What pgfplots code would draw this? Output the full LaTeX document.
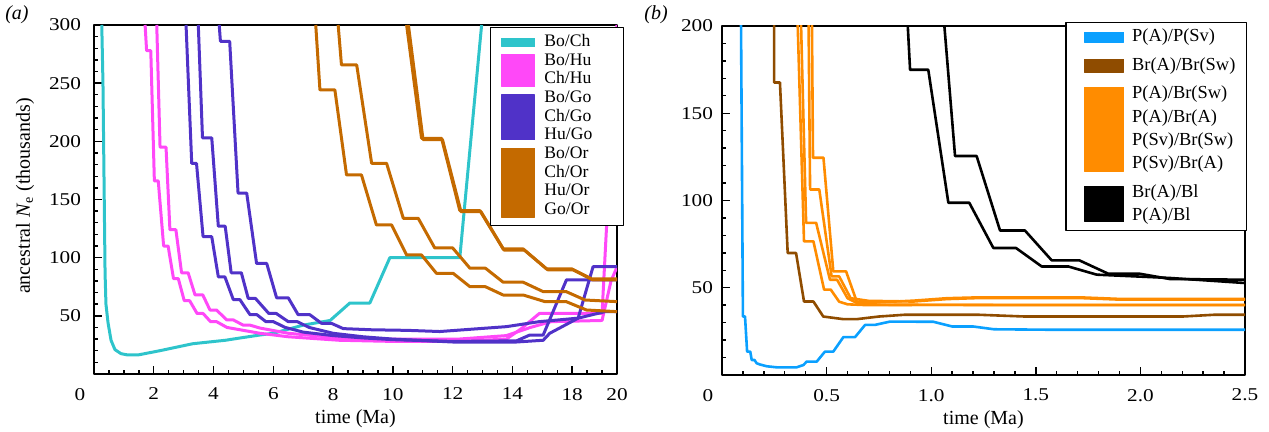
\documentclass[border=0pt]{standalone}
\usepackage{fontspec}
\setmainfont{Liberation Serif}
\newfontfamily\axisfont{Liberation Serif}[FakeStretch=1.18]
\usepackage{pgfplots}
\pgfplotsset{compat=1.18}

\definecolor{cyanA}{RGB}{46,196,203}
\definecolor{magA}{RGB}{255,72,248}
\definecolor{purA}{RGB}{80,50,200}
\definecolor{brnA}{RGB}{196,106,0}
\definecolor{bluB}{RGB}{10,160,255}
\definecolor{brnB}{RGB}{143,76,0}
\definecolor{orgB}{RGB}{255,140,0}

\pgfplotsset{
  panel/.style={
    scale only axis, width=261.5pt, height=174.5pt, anchor=south west,
    axis line style={line width=1pt},
    tick style={line width=0.7pt, black},
    tick align=inside, xtick pos=left, ytick pos=left,
    major tick length=4pt, minor tick length=2.2pt,
    /pgf/number format/assume math mode=true,
    tick label style={font=\axisfont\fontsize{9}{10}\selectfont},
    xticklabel style={yshift=-3.5pt},
    label style={font=\axisfont\fontsize{10}{12}\selectfont},
    every axis x label/.style={at={(axis description cs:0.5,-0.128)}, anchor=center},
    every axis y label/.style={at={(axis description cs:-0.132,0.51)}, rotate=90, anchor=center},
    extra x ticks={0}, extra x tick labels={0},
    extra x tick style={tick label style={xshift=-7pt}},
    line join=round,
  },
  leg/.style={
    draw=black, line width=0.6pt, fill=white,
    cells={anchor=west, align=left},
    nodes={inner sep=0pt, text depth=},
    row sep=0pt,
  },
}

\begin{document}
\begin{tikzpicture}
\path[use as bounding box] (0,0) rectangle (634.5pt,216pt);
\node[font=\itshape\fontsize{10}{11}\selectfont] at (8.5pt,208.5pt) {(a)};
\node[font=\itshape\fontsize{10}{11}\selectfont] at (328pt,208.5pt) {(b)};

% ---------- panel (a)
\begin{axis}[panel, at={(47pt,29pt)},
  xmin=0, xmax=17.5, ymin=0, ymax=300,
  xtick={2,4,...,16,17.5}, xticklabels={2,4,6,8,10,12,14,18,20},
  minor xtick={0.5,1,...,17},
  ytick={50,100,...,300}, minor ytick={10,20,...,290},
  yticklabel style={xshift=-3pt},
  xlabel={time (Ma)}, ylabel={ancestral \textit{N}\textsubscript{e} (thousands)},
  legend style={leg, at={(1.0134,0.994)}, anchor=north east,
    font=\fontsize{8.8}{9.35}\selectfont, inner xsep=5.5pt, inner ysep=2.8pt,
    column sep=4.5pt},
]
\addlegendimage{legend image code/.code={\fill[cyanA] (0pt,-2.1pt) rectangle (16.5pt,2.1pt);}}
\addlegendentry{\makebox[34pt][l]{\strut Bo/Ch}}
\addlegendimage{legend image code/.code={\fill[magA] (0pt,-8pt) rectangle (16.5pt,8pt);}}
\addlegendentry{\strut Bo/Hu\\Ch/Hu\strut}
\addlegendimage{legend image code/.code={\fill[purA] (0pt,-11.2pt) rectangle (16.5pt,11.2pt);}}
\addlegendentry{\strut Bo/Go\\Ch/Go\\Hu/Go\strut}
\addlegendimage{legend image code/.code={\fill[brnA] (0pt,-17.2pt) rectangle (16.5pt,17.2pt);}}
\addlegendentry{\strut Bo/Or\\Ch/Or\\Hu/Or\\Go/Or\strut}

% Bo/Ch
\addplot[cyanA, line width=1.5pt, forget plot] coordinates {
(0.26,300) (0.30,250) (0.37,87) (0.40,60) (0.47,44) (0.57,29) (0.70,21)
(0.90,17.5) (1.10,16.5) (1.50,16.5) (2.20,20) (3.30,26) (4.40,29) (4.90,31)
(5.55,33.5) (6.00,35) (7.00,42) (7.90,46) (8.56,61) (9.23,61) (9.90,100)
(12.24,100) (12.97,300)};
% Bo/Hu, Ch/Hu
\addplot[magA, line width=1.5pt, forget plot] coordinates {
(1.71,300) (1.76,278) (1.90,278) (2.02,166) (2.15,166) (2.33,110) (2.48,110)
(2.66,82) (2.82,82) (3.02,63) (3.20,63) (3.45,52) (3.65,52) (3.90,45) (4.10,45)
(4.45,40) (5.00,37.5) (5.55,35) (6.50,32) (8.20,29) (10.0,28) (12.2,28)
(13.8,30) (14.3,39) (14.9,52) (17.0,52) (17.5,300)};
\addplot[magA, line width=1.5pt, forget plot] coordinates {
(2.10,300) (2.21,195) (2.41,195) (2.54,124) (2.74,124) (2.93,87) (3.15,87)
(3.38,68) (3.64,68) (3.88,55) (4.10,55) (4.44,46.5) (4.66,46.5) (4.99,42)
(5.22,42) (5.55,39.5) (6.50,35) (8.20,31) (10.0,30) (12.2,30) (13.8,33)
(14.6,40) (15.3,45) (17.0,46) (17.3,80) (17.5,92)};
% Bo/Go, Ch/Go, Hu/Go
\addplot[purA, line width=1.5pt, forget plot] coordinates {
(3.08,300) (3.27,181) (3.43,181) (3.65,118) (3.94,118) (4.16,83.5) (4.38,83.5)
(4.66,64) (4.88,64) (5.22,51) (5.45,51) (5.75,45) (6.00,45) (6.40,40) (7.00,36)
(8.00,33) (9.00,31) (10.0,29.5) (12.0,28) (14.14,28.5) (14.58,33.5) (15.03,33.5)
(15.81,81) (17.5,81)};
\addplot[purA, line width=1.5pt, forget plot] coordinates {
(3.49,300) (3.63,203) (3.94,203) (4.16,127) (4.39,127) (4.59,87) (4.93,87)
(5.16,65) (5.40,65) (5.85,52) (6.10,52) (6.50,45) (6.80,45) (7.20,40) (8.00,35)
(9.00,32) (10.0,30) (12.0,27.5) (14.14,27.5) (15.03,29) (15.25,35) (16.2,48)
(16.7,92.3) (17.5,92.3)};
\addplot[purA, line width=1.5pt, forget plot] coordinates {
(4.19,300) (4.23,286) (4.54,286) (4.82,155.5) (5.11,155.5) (5.44,95) (5.78,95)
(6.11,65.5) (6.50,65.5) (6.83,51) (7.22,51) (7.61,43.6) (7.94,43.6) (8.34,39)
(9.30,38) (10.5,37.5) (11.57,36.5) (13.8,40.7) (14.9,45) (16.2,48) (17.1,53.6)
(17.5,53.6)};
% Bo/Or, Ch/Or, Hu/Or, Go/Or
\addplot[brnA, line width=1.5pt, forget plot] coordinates {
(7.42,300) (7.56,244.2) (8.06,244.2) (8.45,171.1) (8.95,171.1) (9.45,128.1)
(9.96,128.1) (10.46,102.3) (10.96,102.3) (11.46,86.5) (12.02,86.5) (12.58,75)
(13.1,75) (13.69,67.9) (14.36,67.9) (15.09,62.2) (15.8,62.2) (16.48,55)
(17.5,53.6)};
\addplot[brnA, line width=1.5pt, forget plot] coordinates {
(8.17,300) (8.28,265.7) (8.79,265.7) (9.29,181.1) (9.79,181.1) (10.35,133.8)
(10.85,133.8) (11.40,108.4) (12.0,108.4) (12.58,90.9) (13.1,90.9) (13.69,78.9)
(14.36,78.9) (15.03,70.8) (15.8,70.8) (16.43,63.6) (17.5,62.2)};
\addplot[brnA, line width=1.5pt, forget plot] coordinates {
(10.46,300) (10.96,202.6) (11.63,202.6) (12.24,140.5) (12.91,140.5) (13.69,107.5)
(14.36,107.5) (15.14,90.4) (15.98,90.4) (16.65,81.8) (17.5,81.8)};
\addplot[brnA, line width=1.5pt, forget plot] coordinates {
(10.52,300) (11.01,201.5) (11.66,201.5) (12.28,139.5) (12.95,139.5) (13.72,106.5)
(14.40,106.5) (15.18,89.6) (16.02,89.6) (16.68,81.0) (17.5,81.0)};
\end{axis}

% ---------- panel (b)
\begin{axis}[panel, at={(361pt,28.5pt)},
  xmin=0, xmax=2.5, ymin=0, ymax=200,
  xtick={0.5,1,...,2.5}, minor xtick={0.1,0.2,...,2.4},
  xticklabel={\pgfmathprintnumber[fixed,fixed zerofill,precision=1]{\tick}},
  ytick={50,100,150,200}, minor ytick={10,20,...,190},
  yticklabel style={xshift=-1pt},
  xlabel={time (Ma)},
  legend style={leg, at={(1.0038,1.0115)}, anchor=north east,
    font=\fontsize{9.2}{11.65}\selectfont, inner xsep=5.5pt, inner ysep=1.5pt,
    column sep=4pt, row sep=2.6pt},
]
\addlegendimage{legend image code/.code={\path (0pt,0pt); \fill[bluB] (3.5pt,-2.5pt) rectangle (23pt,2.5pt);}}
\addlegendentry{\strut P(A)/P(Sv)}
\addlegendimage{legend image code/.code={\path (0pt,0pt); \fill[brnB] (3.5pt,-3.25pt) rectangle (23pt,3.25pt);}}
\addlegendentry{\strut Br(A)/Br(Sw)}
\addlegendimage{legend image code/.code={\path (0pt,0pt); \fill[orgB] (3.5pt,-21pt) rectangle (23pt,21pt);}}
\addlegendentry{\strut P(A)/Br(Sw)\\P(A)/Br(A)\\P(Sv)/Br(Sw)\\P(Sv)/Br(A)\strut}
\addlegendimage{legend image code/.code={\path (0pt,0pt); \fill[black] (3.5pt,-8.75pt) rectangle (23pt,8.75pt);}}
\addlegendentry{\strut Br(A)/Bl\\P(A)/Bl\strut}

% P(A)/P(Sv)
\addplot[bluB, line width=1.3pt, forget plot] coordinates {
(0.088,210) (0.091,200) (0.100,33.5) (0.110,33.5) (0.120,13.4) (0.135,13.4)
(0.142,8.6) (0.155,8.6) (0.166,6.7) (0.182,6.0) (0.214,5.0) (0.261,4.4)
(0.357,4.4) (0.389,5.7) (0.405,7.7) (0.453,7.7) (0.492,13.4) (0.532,13.4)
(0.580,21.7) (0.636,21.7) (0.684,28.7) (0.731,28.7) (0.803,30.6) (1.01,30.5)
(1.10,27.8) (1.20,27.8) (1.30,26.2) (1.60,25.9) (2.50,25.9)};
% Br(A)/Br(Sw)
\addplot[brnB, line width=1.3pt, forget plot] coordinates {
(0.249,210) (0.249,167.6) (0.277,167.6) (0.314,69.9) (0.354,69.9) (0.392,42.1)
(0.437,42.1) (0.484,33.5) (0.580,32) (0.644,32) (0.750,33.5) (0.870,34.5)
(1.23,34.5) (1.45,33.5) (2.20,33.5) (2.35,34.5) (2.50,34.5)};
% orange group
\addplot[orgB, line width=1.3pt, forget plot] coordinates {
(0.357,210) (0.362,200) (0.392,76.6) (0.437,76.6) (0.488,48.9) (0.520,48.9)
(0.560,42) (0.600,40.5) (0.700,40) (1.00,40.2) (2.50,40.2)};
\addplot[orgB, line width=1.3pt, forget plot] coordinates {
(0.373,210) (0.378,200) (0.402,87.2) (0.450,87.2) (0.516,54.6) (0.550,54.6)
(0.600,44) (0.650,41) (0.750,40.3) (1.50,40.0) (2.50,40.0)};
\addplot[orgB, line width=1.3pt, forget plot] coordinates {
(0.410,210) (0.414,200) (0.421,106.3) (0.465,106.3) (0.524,56.5) (0.560,56.5)
(0.615,44) (0.700,42.5) (0.915,42.1) (1.075,43.5) (1.23,44.1) (1.71,44.1)
(1.90,43.2) (2.50,43.2)};
\addplot[orgB, line width=1.3pt, forget plot] coordinates {
(0.426,210) (0.430,200) (0.435,124.5) (0.485,124.5) (0.532,59.4) (0.593,59.4)
(0.644,42.1) (0.720,41.5) (0.915,42.6) (1.075,44.0) (1.23,44.5) (1.71,44.5)
(1.90,43.6) (2.50,43.6)};
% black group
\addplot[black, line width=1.3pt, forget plot] coordinates {
(0.883,210) (0.888,200) (0.899,174.9) (0.986,174.9) (1.082,98.7) (1.182,98.7)
(1.297,72.8) (1.405,72.8) (1.528,62.2) (1.655,62.2) (1.791,57.5) (2.141,55.6)
(2.50,52.7)};
\addplot[black, line width=1.3pt, forget plot] coordinates {
(1.058,210) (1.063,200) (1.114,125.5) (1.217,125.5) (1.329,82.8) (1.448,82.8)
(1.576,65.7) (1.708,65.7) (1.847,58) (1.998,58) (2.141,55) (2.50,54.6)};
\end{axis}
\end{tikzpicture}
\end{document}
